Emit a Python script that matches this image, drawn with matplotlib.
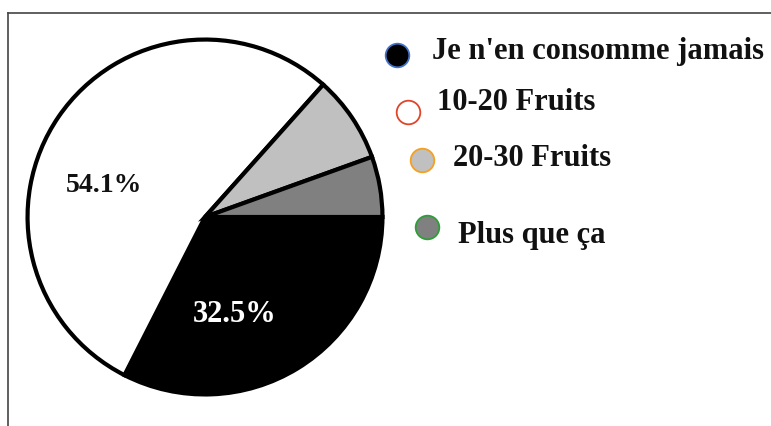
import matplotlib.pyplot as plt
from matplotlib.lines import Line2D

labels = ["Je n'en consomme jamais", "10-20 Fruits", "20-30 Fruits", "Plus que ça"]
values = [32.5, 54.1, 7.9, 5.5]
colors = ['#000000', '#ffffff', '#c0c0c0', '#808080']
marker_edges = ['#4472c4', '#e0452a', '#f4a020', '#2e9e3a']

plt.rcParams['font.family'] = ['Liberation Serif', 'DejaVu Serif']
plt.rcParams['font.weight'] = 'bold'

W, H = 771, 426
fig = plt.figure(figsize=(W / 100, H / 100), dpi=100)

# pie axes: centre ~(205, 217) px, radius ~181 px
cx, cy, r = 205, 217, 181
ax = fig.add_axes([(cx - r) / W, (H - cy - r) / H, 2 * r / W, 2 * r / H])
ax.pie(values, colors=colors, startangle=0, counterclock=False,
       wedgeprops=dict(edgecolor='black', linewidth=3))
ax.set_xlim(-1.02, 1.02)
ax.set_ylim(-1.02, 1.02)
ax.axis('off')

# only the two big slices carry a percentage
ax.text(-0.57, 0.18, f'{values[1]}%', ha='center', va='center',
        fontsize=20, fontweight='bold', color='#111111')
ax.text(0.17, -0.55, f'{values[0]}%', ha='center', va='center',
        fontsize=22, fontweight='bold', color='white')

# legend drawn by hand (staggered like the original)
leg_marker_x = [397, 408, 422, 427]
leg_marker_y = [55, 112, 160, 227]
leg_text_x = [432, 437, 453, 458]
leg_text_y = [51, 103, 159, 235]
for i, lab in enumerate(labels):
    fig.add_artist(Line2D([leg_marker_x[i] / W], [1 - leg_marker_y[i] / H],
                          marker='o', markersize=17,
                          markerfacecolor=colors[i], markeredgecolor=marker_edges[i],
                          markeredgewidth=1.3, linestyle='none'))
    fig.text(leg_text_x[i] / W, 1 - leg_text_y[i] / H, lab, ha='left', va='center',
             fontsize=22, fontweight='bold', color='#111111')

# frame lines (left and top only)
fig.add_artist(Line2D([8 / W, 8 / W], [0, 1 - 13 / H], color='#444444', linewidth=1.2))
fig.add_artist(Line2D([8 / W, 1], [1 - 13 / H, 1 - 13 / H], color='#444444', linewidth=1.2))

fig.savefig('out.png', dpi=100, facecolor='white')
